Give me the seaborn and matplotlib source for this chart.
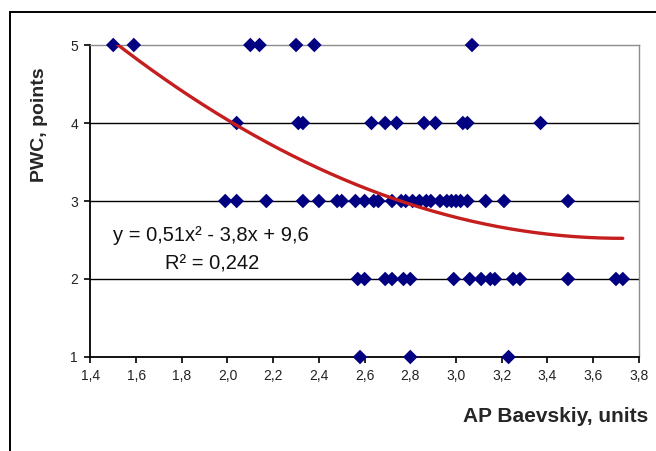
import numpy as np
import pandas as pd
import matplotlib
matplotlib.use("Agg")
import matplotlib.pyplot as plt
from matplotlib.patches import Rectangle
from matplotlib.ticker import FuncFormatter
import seaborn as sns

# AP Baevskiy index values grouped by PWC score
pwc5 = [1.50, 1.59, 2.10, 2.14, 2.30, 2.38, 3.07]
pwc4 = [2.04, 2.31, 2.33, 2.63, 2.69, 2.74, 2.86, 2.91, 3.03, 3.05, 3.37]
pwc3 = [1.99, 2.04, 2.17, 2.33, 2.40, 2.48, 2.50, 2.56, 2.60, 2.64, 2.66,
        2.72, 2.76, 2.78, 2.81, 2.84, 2.87, 2.89, 2.93, 2.96, 2.98, 3.00,
        3.02, 3.05, 3.13, 3.21, 3.49]
pwc2 = [2.57, 2.60, 2.69, 2.72, 2.77, 2.80, 2.99, 3.06, 3.11, 3.15, 3.17,
        3.25, 3.28, 3.49, 3.70, 3.73]
pwc1 = [2.58, 2.80, 3.23]

# quadratic trend: y = a*x^2 + b*x + c
trend_coef = [0.51, -3.8, 9.6]
r_squared = 0.242

x_ticks = [1.4, 1.6, 1.8, 2.0, 2.2, 2.4, 2.6, 2.8, 3.0, 3.2, 3.4, 3.6, 3.8]
y_ticks = [1, 2, 3, 4, 5]

groups = {5: pwc5, 4: pwc4, 3: pwc3, 2: pwc2, 1: pwc1}
df = pd.DataFrame([(x, s) for s, xs in groups.items() for x in xs],
                  columns=["ap", "pwc"])

all_x = df["ap"]
tx = np.linspace(all_x.min(), all_x.max(), 200)
trend = pd.DataFrame({"ap": tx, "pwc": np.polyval(trend_coef, tx)})

sns.set_style("white")
plt.rcParams["font.family"] = ["Liberation Sans", "DejaVu Sans"]

W, H = 656, 451
fig = plt.figure(figsize=(W / 100, H / 100), dpi=100)
fig.patch.set_facecolor("white")

# chart frame
fig.add_artist(Rectangle((10 / W, -0.1), 2, (H - 12) / H + 0.1,
                         transform=fig.transFigure, fill=False,
                         lw=1.4, ec="black"))

left, right, top, bottom = 90.4, 638.8, 45, 357
ax = fig.add_axes([left / W, (H - bottom) / H, (right - left) / W, (bottom - top) / H])

sns.scatterplot(data=df, x="ap", y="pwc", ax=ax, marker="D", s=55,
                color="#000080", edgecolor="none", zorder=3, legend=False,
                clip_on=False)
sns.lineplot(data=trend, x="ap", y="pwc", ax=ax, color="#C41E1E",
             lw=2.4, zorder=4, legend=False)

ax.set_xlim(x_ticks[0], x_ticks[-1])
ax.set_ylim(y_ticks[0], y_ticks[-1])
ax.set_xticks(x_ticks)
ax.set_yticks(y_ticks)
ax.xaxis.set_major_formatter(FuncFormatter(lambda v, p: f"{v:.1f}".replace(".", ",")))
ax.yaxis.set_major_formatter(FuncFormatter(lambda v, p: f"{int(round(v))}"))

ax.grid(axis="y", color="black", lw=1.0)
ax.grid(axis="x", visible=False)
gl = ax.yaxis.get_gridlines()
gl[0].set_visible(False)
gl[-1].set_visible(False)
ax.set_axisbelow(True)

for side in ["left", "bottom"]:
    ax.spines[side].set_color("black")
    ax.spines[side].set_linewidth(1.3)
for side in ["top", "right"]:
    ax.spines[side].set_color("#8c8c8c")
    ax.spines[side].set_linewidth(1.0)
    ax.spines[side].set_visible(True)

ax.tick_params(axis="both", which="major", direction="out", length=4,
               width=1.2, color="black", labelsize=10, labelcolor="#222222",
               bottom=True, left=True)
ax.tick_params(axis="x", pad=5)
ax.tick_params(axis="y", pad=5)

ax.set_xlabel("AP Baevskiy, units", fontsize=15, fontweight="bold")
ax.set_ylabel("PWC, points", fontsize=14, fontweight="bold")
ax.xaxis.label.set_ha("right")
ax.xaxis.label.set_va("center")
ax.xaxis.set_label_coords((648 - left) / (right - left), (bottom - 417) / (bottom - top))
ax.yaxis.label.set_va("center")
ax.yaxis.set_label_coords((40 - left) / (right - left), (bottom - 125) / (bottom - top))

a, b, c = trend_coef
fmt = lambda v: f"{v:g}".replace(".", ",")
eq = f"y = {fmt(a)}x² - {fmt(-b)}x + {fmt(c)}"
ax.text((211 - left) / (right - left), (bottom - 235) / (bottom - top), eq,
        transform=ax.transAxes, ha="center", va="center", fontsize=14.5,
        color="#111111")
ax.text((212 - left) / (right - left), (bottom - 264) / (bottom - top),
        f"R² = {fmt(r_squared)}", transform=ax.transAxes, ha="center",
        va="center", fontsize=14.5, color="#111111")

fig.savefig("out.png", dpi=100)
